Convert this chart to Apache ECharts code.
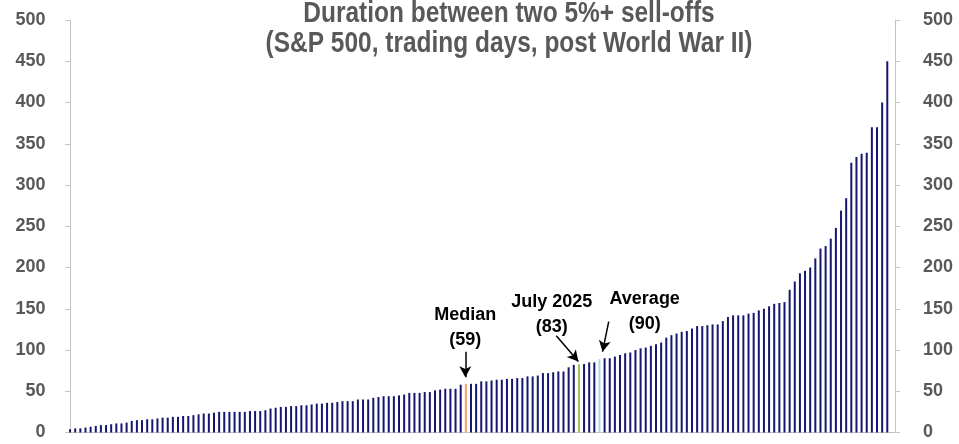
<!DOCTYPE html>
<html>
<head>
<meta charset="utf-8">
<script src="https://cdn.jsdelivr.net/npm/echarts@6/dist/echarts.min.js"></script>
<style>
html,body{margin:0;padding:0;background:#fff;}
#chart{width:959px;height:444px;}
</style>
</head>
<body>
<div id="chart"></div>
<script>
// Durations between two 5%+ sell-offs, sorted (trading days)
const values = [
  4,5,5,6,7,8,9,9,10,11,11,12,14,15,15,16,16,17,18,18,
  19,19,20,20,21,22,23,23,24,25,25,25,25,25,25,26,26,26,27,29,
  30,31,31,32,32,33,33,34,35,35,36,36,37,38,38,38,40,40,40,42,
  43,44,44,44,45,46,48,48,48,49,49,51,52,53,53,53,58,59,59,59,
  62,62,63,64,64,65,65,66,66,68,68,69,72,72,73,74,74,79,82,83,
  83,85,85,89,90,90,92,94,96,97,100,102,103,105,107,109,115,118,120,122,
  123,126,129,129,130,131,131,135,140,142,142,142,144,145,148,150,153,156,157,158,
  173,183,193,196,200,211,223,226,235,248,269,284,327,334,338,339,370,370,400,450
];
const categories = values.map((v, i) => String(i + 1)).concat(['']);
const yTicks = [0, 50, 100, 150, 200, 250, 300, 350, 400, 450, 500];
const titleLines = ['Duration between two 5%+ sell-offs', '(S&P 500, trading days, post World War II)'];
const highlights = [
  { index: 77, color: '#f4a261', label: 'Median', value: 59 },
  { index: 99, color: '#9bbb59', label: 'July 2025', value: 83 },
  { index: 103, color: '#a8d8e6', label: 'Average', value: 90 }
];

const FONT = "'Liberation Sans', Arial, sans-serif";
const barData = values.map((v, i) => {
  const h = highlights.find(x => x.index === i);
  if (!h) return v;
  return { value: v, itemStyle: { color: h.color, borderColor: h.color, borderWidth: 1 } };
});

const chart = echarts.init(document.getElementById('chart'), null, { renderer: 'canvas' });
const yAxisBase = {
  type: 'value', min: yTicks[0], max: yTicks[yTicks.length - 1], interval: 50,
  splitLine: { show: false },
  axisLine: { show: true, lineStyle: { color: '#c4c4c4', width: 1 } },
  axisTick: { show: true, length: 5, lineStyle: { color: '#c4c4c4' } },
  axisLabel: { color: '#595959', fontSize: 18, fontWeight: 'bold', fontFamily: FONT }
};

const titleGraphic = titleLines.map((t, k) => ({
  type: 'text', x: 509, y: 14 + k * 30, originX: 0, originY: 0,
  scaleX: 1.02, scaleY: 1.2, silent: true,
  style: { text: t, fill: '#595959', font: "bold 24px 'Liberation Sans', Arial, sans-serif", textAlign: 'center', textVerticalAlign: 'middle' }
}));

chart.setOption({
  animation: false,
  backgroundColor: '#ffffff',
  graphic: { elements: titleGraphic },
  grid: { left: 67.5, right: 64, top: 20, bottom: 11.5 },
  xAxis: [
    {
      type: 'category', data: categories, boundaryGap: true,
      axisLine: { show: true, lineStyle: { color: '#c4c4c4' } },
      axisTick: { show: false }, axisLabel: { show: false }
    },
    { type: 'value', min: -0.5, max: categories.length - 0.5, show: false }
  ],
  yAxis: [
    Object.assign({}, yAxisBase, { position: 'left', axisLabel: Object.assign({}, yAxisBase.axisLabel, { margin: 22 }) }),
    Object.assign({}, yAxisBase, { position: 'right', axisLabel: Object.assign({}, yAxisBase.axisLabel, { margin: 28 }) })
  ],
  series: [
    {
      type: 'bar', xAxisIndex: 0, yAxisIndex: 0, data: barData,
      barWidth: 2, itemStyle: { color: '#16166e' }, silent: true
    },
    {
      type: 'line', xAxisIndex: 1, yAxisIndex: 0, data: [], silent: true,
      markPoint: {
        symbol: 'circle', symbolSize: 1, silent: true,
        itemStyle: { color: 'rgba(0,0,0,0)' },
        label: { show: true, position: 'inside', color: '#000', fontSize: 18, fontWeight: 'bold', fontFamily: FONT, lineHeight: 25,
                 formatter: p => p.name + '\n(' + p.value + ')' },
        data: [
          { name: highlights[0].label, value: highlights[0].value, coord: [76.9, 127.5] },
          { name: highlights[1].label, value: highlights[1].value, coord: [93.7, 143] },
          { name: highlights[2].label, value: highlights[2].value, coord: [111.8, 146.5] }
        ]
      },
      markLine: {
        silent: true, symbol: ['none', 'arrow'], symbolSize: [9, 11],
        label: { show: false },
        lineStyle: { color: '#000', width: 1.5, type: 'solid' },
        emphasis: { disabled: true },
        data: [
          [{ coord: [76.9, 98] }, { coord: [76.9, 67] }],
          [{ coord: [94.6, 117.4] }, { coord: [98.9, 86] }],
          [{ coord: [104.8, 134.4] }, { coord: [103.6, 98] }]
        ]
      }
    }
  ]
});
</script>
</body>
</html>
